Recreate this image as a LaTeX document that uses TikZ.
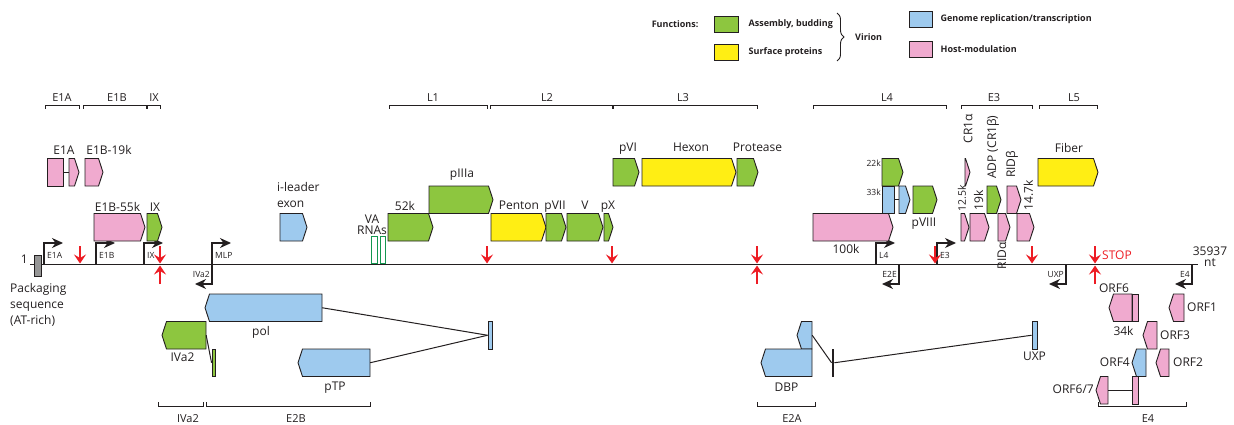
\documentclass[tikz,border=0pt]{standalone}
\usepackage{fontspec}
\setmainfont{Open Sans}
\usetikzlibrary{arrows.meta,positioning,decorations.pathreplacing}
\definecolor{ink}{RGB}{35,31,32}
\definecolor{asmgreen}{RGB}{141,198,63}
\definecolor{surfyellow}{RGB}{255,238,20}
\definecolor{repblue}{RGB}{158,202,238}
\definecolor{hostpink}{RGB}{240,170,207}
\definecolor{packgray}{RGB}{150,150,150}
\definecolor{stopred}{RGB}{237,28,36}
\definecolor{vagreen}{RGB}{20,150,80}
\tikzset{
  gene/.style={draw=ink,line width=0.9pt,line join=miter},
  exon/.style={gene,inner sep=0pt,minimum height=27.5pt},
  anchorbox/.style={inner sep=0pt,minimum height=27.5pt},
  vabox/.style={draw=vagreen,line width=0.9pt,fill=white,inner sep=0pt,minimum height=27pt},
  glab/.style={inner sep=0pt,text=ink,font=\fontsize{12}{16}\selectfont},
  rlab/.style={glab,rotate=90},
  plab/.style={inner sep=0pt,text=ink,font=\fontsize{8.5}{10}\selectfont},
  reg/.style={inner sep=0pt,text=ink,font=\fontsize{11}{13}\selectfont},
  legtxt/.style={inner sep=0pt,text=ink,font=\fontsize{9}{11}\selectfont\bfseries},
  legbox/.style={draw=ink,line width=0.9pt,minimum width=24pt,minimum height=16pt,inner sep=0pt},
  genome/.style={draw=ink,line width=1.2pt},
  prom/.style={-{Stealth[length=11pt,width=10pt,inset=3.5pt]},draw=ink,line width=1.2pt},
  halt/.style={-{Stealth[length=9pt,width=12pt,inset=3.5pt]},draw=stopred,line width=1.4pt},
  brk/.style={draw=ink,line width=0.9pt},
  link/.style={draw=ink,line width=1pt}
}
\newcommand\fgene[5]{%
  \draw[gene,fill=#5] (#2,#4) -- ({#3-4.5},#4) -- (#3,{#4+13.75}) -- ({#3-4.5},{#4+27.5}) -- (#2,{#4+27.5}) -- cycle;
  \node[anchorbox,minimum width={(#3-#2)*1pt}] (#1) at ({(#2+#3)/2},{#4+13.75}) {};}
\newcommand\rgene[5]{%
  \draw[gene,fill=#5] (#3,#4) -- ({#2+4.5},#4) -- (#2,{#4+13.75}) -- ({#2+4.5},{#4+27.5}) -- (#3,{#4+27.5}) -- cycle;
  \node[anchorbox,minimum width={(#3-#2)*1pt}] (#1) at ({(#2+#3)/2},{#4+13.75}) {};}
\newcommand\bgene[5]{%
  \node[exon,fill=#5,minimum width={(#3-#2)*1pt}] (#1) at ({(#2+#3)/2},{#4+13.75}) {};}

\begin{document}
\begin{tikzpicture}[x=1pt,y=-1pt]
  \useasboundingbox (0,0) rectangle (1234,425);

  \node[legbox,fill=asmgreen] (lgreen) at (726,24) {};
  \node[legbox,fill=surfyellow] (lyellow) at (726,52.5) {};
  \node[legbox,fill=repblue,minimum width=23pt] (lblue) at (920.5,19.5) {};
  \node[legbox,fill=hostpink,minimum width=23pt] (lpink) at (920.5,49.5) {};
  \node[legtxt,left=15pt of lgreen] (lfun) {Functions:};
  \node[legtxt,right=10pt of lgreen] (lasm) {Assembly, budding};
  \node[legtxt,right=10pt of lyellow] (lsurf) {Surface proteins};
  \node[legtxt,right=8pt of lblue] (lrep) {Genome replication/transcription};
  \node[legtxt,right=8pt of lpink] (lhost) {Host-modulation};
  \draw[brk,decorate,decoration={brace,amplitude=7pt}] (837,13) -- (837,61);
  \node[legtxt,anchor=west] (lvir) at (855,37) {Virion};

  \coordinate (g0) at (30,264.5);
  \coordinate (g1) at (1198,264.5);
  \draw[genome] (g0) -- (g1);
  \node[gene,fill=packgray,minimum width=6.5pt,minimum height=21pt,inner sep=0pt] (pack) at (38,265.5) {};
  \node[glab,anchor=base east] (one) at (28,263) {1};
  \node[glab,align=left,anchor=north west] (packlab) at (10,283) {Packaging\\sequence\\(AT-rich)};
  \node[glab,align=center,anchor=north,font=\fontsize{12}{11}\selectfont] (len) at (1210,246.4) {35937\\nt};

  \foreach \a/\b/\c/\t in {45/79/62/E1A, 83/146/117/E1B, 147/160/154/IX, 389/487/433/L1, 490/612/547/L2, 613/757/683/L3, 813/946/887/L4, 961/1032/994/E3, 1039/1097/1074/L5}{
    \draw[brk] (\a,109) |- (\b,105) -- (\b,109);
    \node[reg,anchor=base] (top\t) at (\c,102) {\t};
  }
  \foreach \a/\b/\c/\t in {158/203/188/IVa2, 206/370/296/E2B, 757/815/792/E2A, 1098/1186/1148/E4}{
    \draw[brk] (\a,402) |- (\b,406) -- (\b,402);
    \node[reg,anchor=base] (bot\t) at (\c,422) {\t};
  }

  \foreach \x/\t in {44/E1A, 96/E1B, 144/IX, 212/MLP, 876/L4, 937/E3}{
    \coordinate (pf\t) at (\x,264.5);
    \draw[prom] (pf\t) |- ++(19,-21.5);
    \node[plab,anchor=base west] (pfl\t) at (\x+3,258) {\t};
  }
  \foreach \x/\t in {212/IVa2, 899/E2E, 1066/UXP, 1192/E4}{
    \coordinate (pr\t) at (\x,264.5);
    \draw[prom] (pr\t) |- ++(-17,19.5);
    \node[plab,anchor=base east] (prl\t) at (\x-2,277.5) {\t};
  }

  \foreach \x in {80,160,487,612,757,935,1032,1095}
    \draw[halt] (\x,246) -- (\x,263.5);
  \foreach \x in {160,757,1095}
    \draw[halt] (\x,284) -- (\x,265.5);
  \node[glab,text=stopred,anchor=base west] (stop) at (1102,259) {STOP};

  \bgene{e1aA}{47}{63}{158.5}{hostpink}
  \fgene{e1aB}{69}{79}{158.5}{hostpink}
  \draw[link] (e1aA) -- (e1aB);
  \fgene{e1b19}{85}{103}{158.5}{hostpink}
  \fgene{e1b55}{94}{145}{213.5}{hostpink}
  \fgene{ix}{147}{162}{213.5}{asmgreen}
  \fgene{ileader}{280}{307}{213.5}{repblue}
  \node[vabox,minimum width=6pt] (vaA) at (374,250) {};
  \node[vabox,minimum width=5pt] (vaB) at (382.5,250) {};
  \fgene{k52}{388}{433}{213.5}{asmgreen}
  \fgene{piiia}{429}{493}{186}{asmgreen}
  \fgene{penton}{491}{546}{213.5}{surfyellow}
  \fgene{pvii}{546}{566}{213.5}{asmgreen}
  \fgene{pv}{567}{603}{213.5}{asmgreen}
  \fgene{px}{604}{613}{213.5}{asmgreen}
  \fgene{pvi}{613}{639}{158.5}{asmgreen}
  \fgene{hexon}{642}{736}{158.5}{surfyellow}
  \fgene{protease}{737}{758}{158.5}{asmgreen}
  \fgene{k100}{813}{893}{213.5}{hostpink}
  \fgene{k22}{882}{903}{158.5}{asmgreen}
  \bgene{k33a}{882}{894}{186}{repblue}
  \fgene{k33b}{899}{910}{186}{repblue}
  \draw[link] (k33a) -- (k33b);
  \fgene{pviii}{913}{937}{186}{asmgreen}
  \fgene{cronea}{965}{970}{158.5}{hostpink}
  \fgene{k125}{961}{969}{213.5}{hostpink}
  \fgene{k19}{970}{989}{213.5}{hostpink}
  \fgene{adp}{987}{1001}{186}{asmgreen}
  \fgene{rida}{998}{1010}{213.5}{hostpink}
  \fgene{ridb}{1007}{1021}{186}{hostpink}
  \fgene{k147}{1017}{1034}{213.5}{hostpink}
  \fgene{fiber}{1038}{1098}{158.5}{surfyellow}

  \rgene{pol}{205}{322}{294}{repblue}
  \rgene{ivatwo}{162}{206}{321.5}{asmgreen}
  \rgene{ptp}{298}{370}{349}{repblue}
  \bgene{polx}{488}{492}{321.5}{repblue}
  \bgene{ivax}{212}{215.5}{349}{asmgreen}
  \draw[link] (pol.east) -- (polx.west);
  \draw[link] (ptp.east) -- (polx.west);
  \draw[link] (ivatwo.east) -- (ivax.west);
  \rgene{dbpA}{797}{812}{321.5}{repblue}
  \rgene{dbpB}{761}{812}{349}{repblue}
  \node[fill=ink,inner sep=0pt,minimum width=2.5pt,minimum height=27.5pt] (dbpbar) at (833,362.75) {};
  \bgene{uxp}{1032}{1037}{321.5}{repblue}
  \draw[link] (dbpA.east) -- (dbpbar.west);
  \draw[link] (dbpbar.east) -- (uxp.west);
  \rgene{orfsix}{1109}{1132}{294}{hostpink}
  \bgene{kthirtyfour}{1132}{1138}{294}{hostpink}
  \rgene{orfone}{1169}{1184}{294}{hostpink}
  \rgene{orfthree}{1143}{1157}{321.5}{hostpink}
  \rgene{orffour}{1132}{1146}{349}{repblue}
  \rgene{orftwo}{1156}{1169}{349}{hostpink}
  \rgene{orfsvA}{1096}{1108}{376.5}{hostpink}
  \bgene{orfsvB}{1132}{1138}{376.5}{hostpink}
  \draw[link,line width=1.5pt] (orfsvA.east) -- (orfsvB.west);

  \node[glab,anchor=base] (le1a) at (64,154) {E1A};
  \node[glab,anchor=base] (le1b19) at (109,154) {E1B-19k};
  \node[glab,anchor=base] (le1b55) at (117.5,211) {E1B-55k};
  \node[glab,anchor=base] (lix) at (155,211) {IX};
  \node[glab,align=left,anchor=north west] (lileader) at (277,182) {i-leader\\exon};
  \node[glab,align=center,anchor=north,font=\fontsize{12}{11}\selectfont] (lva) at (372,214.4) {VA\\RNAs};
  \node[glab,anchor=base] (l52k) at (405,210) {52k};
  \node[glab,anchor=base] (lpiiia) at (462,178) {pIIIa};
  \node[glab,anchor=base] (lpenton) at (519,209.5) {Penton};
  \node[glab,anchor=base] (lpvii) at (555,209.5) {pVII};
  \node[glab,anchor=base] (lpv) at (585,209.5) {V};
  \node[glab,anchor=base] (lpx) at (608,209.5) {pX};
  \node[glab,anchor=base] (lpvi) at (628,152) {pVI};
  \node[glab,anchor=base] (lhexon) at (691,152) {Hexon};
  \node[glab,anchor=base] (lprotease) at (757.5,151) {Protease};
  \node[glab,anchor=base] (l100k) at (846,253) {100k};
  \node[plab,anchor=base east] (l22k) at (881,166) {22k};
  \node[plab,anchor=base east] (l33k) at (881,195) {33k};
  \node[glab,anchor=base] (lpviii) at (924,226) {pVIII};
  \node[rlab,anchor=west] (lcra) at (968,143.5) {CR1α};
  \node[rlab,anchor=west,font=\fontsize{10.5}{12}\selectfont] (l125k) at (962,212) {12.5k};
  \node[rlab,anchor=west] (l19k) at (978.5,210.5) {19k};
  \node[rlab,anchor=west] (ladp) at (993,179) {ADP (CR1β)};
  \node[rlab,anchor=west] (lridb) at (1012,178) {RIDβ};
  \node[rlab,anchor=west] (l147k) at (1028.5,210.5) {14.7k};
  \node[rlab,anchor=east] (lrida) at (1002,242) {RIDα};
  \node[glab,anchor=base] (lfiber) at (1069,152.5) {Fiber};
  \node[glab,anchor=base] (lpol) at (261,335) {pol};
  \node[glab,anchor=base] (livatwo) at (182.5,361) {IVa2};
  \node[glab,anchor=base] (lptp) at (335,390.5) {pTP};
  \node[glab,anchor=base] (ldbp) at (786.5,391) {DBP};
  \node[glab,anchor=base] (luxp) at (1034.5,360) {UXP};
  \node[glab,anchor=base] (lorfsix) at (1114,292) {ORF6};
  \node[glab,anchor=base] (l34k) at (1123.5,335) {34k};
  \node[glab,anchor=base west] (lorfone) at (1187,311) {ORF1};
  \node[glab,anchor=base west] (lorfthree) at (1160,339) {ORF3};
  \node[glab,anchor=base east] (lorffour) at (1130,366) {ORF4};
  \node[glab,anchor=base west] (lorftwo) at (1173,366) {ORF2};
  \node[glab,anchor=base east] (lorfsv) at (1094,393) {ORF6/7};
\end{tikzpicture}
\end{document}
